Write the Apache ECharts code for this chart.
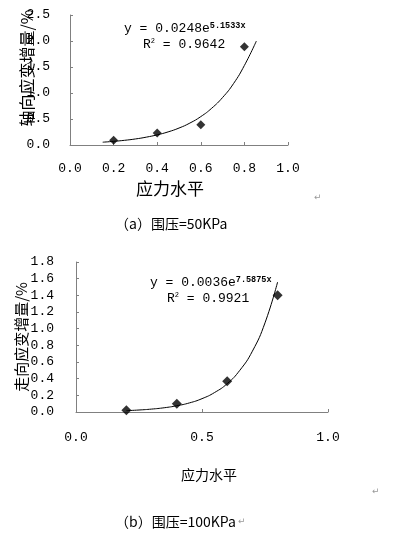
<!DOCTYPE html>
<html>
<head>
<meta charset="utf-8">
<script src="https://cdn.jsdelivr.net/npm/echarts@6/dist/echarts.min.js"></script>
<style>
  html, body { margin: 0; padding: 0; background: #fff; }
  #main { width: 398px; height: 550px; }
</style>
</head>
<body>
<div id="main"></div>
<script>
// 测点 (应力水平)
var stressLevels = [0.2, 0.4, 0.6, 0.8];
// (a) 围压=50KPa 轴向应变增量
var axialStrain = [0.09, 0.23, 0.39, 1.89];
// (b) 围压=100KPa 走向应变增量
var strikeStrain = [0.02, 0.10, 0.37, 1.40];

// 趋势线
var trendAX = [0.15, 0.2, 0.25, 0.3, 0.35, 0.4, 0.45, 0.5, 0.55, 0.6, 0.65, 0.7, 0.75, 0.8, 0.855];
var trendAY = [0.054, 0.07, 0.09, 0.116, 0.151, 0.195, 0.252, 0.326, 0.422, 0.546, 0.707, 0.914, 1.18, 1.53, 2.0];
var trendBX = [0.2, 0.25, 0.3, 0.35, 0.4, 0.45, 0.5, 0.55, 0.6, 0.65, 0.7, 0.75, 0.8];
var trendBY = [0.016, 0.024, 0.035, 0.051, 0.075, 0.109, 0.16, 0.234, 0.34, 0.50, 0.73, 1.07, 1.56];

function pairs(xs, ys) {
  return xs.map(function (x, i) { return [x, ys[i]]; });
}

var mono = '"Liberation Mono", monospace';
var cjk = '"Noto Sans CJK SC", sans-serif';
var axisGray = '#808080';

function fmt1(v) { return v.toFixed(1); }

var chart = echarts.init(document.getElementById('main'));
chart.setOption({
  animation: false,
  grid: [
    { left: 70, top: 15, width: 218, height: 130 },
    { left: 76, top: 262, width: 252, height: 150 }
  ],
  xAxis: [
    {
      gridIndex: 0, type: 'value', min: 0, max: 1, interval: 0.2,
      axisLine: { lineStyle: { color: axisGray } },
      axisTick: { inside: true, length: 3, lineStyle: { color: axisGray } },
      splitLine: { show: false },
      axisLabel: { margin: 17, color: '#000', fontFamily: mono, fontSize: 13, formatter: fmt1 },
      name: '应力水平', nameLocation: 'middle', nameGap: 35, nameMoveOverlap: false,
      nameTextStyle: { fontFamily: cjk, fontSize: 17, color: '#000', padding: [0, 18, 0, 0] }
    },
    {
      gridIndex: 1, type: 'value', min: 0, max: 1, interval: 0.5,
      axisLine: { lineStyle: { color: axisGray } },
      axisTick: { inside: true, length: 3, lineStyle: { color: axisGray } },
      splitLine: { show: false },
      axisLabel: { margin: 19, color: '#000', fontFamily: mono, fontSize: 13, formatter: fmt1 },
      name: '应力水平', nameLocation: 'middle', nameGap: 56, nameMoveOverlap: false,
      nameTextStyle: { fontFamily: cjk, fontSize: 14, color: '#000', padding: [0, 0, 0, 14] }
    }
  ],
  yAxis: [
    {
      gridIndex: 0, type: 'value', min: 0, max: 2.5, interval: 0.5,
      axisLine: { show: true, lineStyle: { color: axisGray } },
      axisTick: { show: true, inside: true, length: 3, lineStyle: { color: axisGray } },
      splitLine: { show: false },
      axisLabel: { margin: 20, color: '#000', fontFamily: mono, fontSize: 13, formatter: fmt1 },
      name: '轴向应变增量/%', nameLocation: 'middle', nameGap: 35, nameRotate: 90, nameMoveOverlap: false,
      nameTextStyle: { fontFamily: cjk, fontSize: 16, color: '#000', padding: [0, 0, 0, 24] }
    },
    {
      gridIndex: 1, type: 'value', min: 0, max: 1.8, interval: 0.2,
      axisLine: { show: true, lineStyle: { color: axisGray } },
      axisTick: { show: true, inside: true, length: 3, lineStyle: { color: axisGray } },
      splitLine: { show: false },
      axisLabel: { margin: 22, color: '#000', fontFamily: mono, fontSize: 13, formatter: fmt1 },
      name: '走向应变增量/%', nameLocation: 'middle', nameGap: 47, nameRotate: 90, nameMoveOverlap: false,
      nameTextStyle: { fontFamily: cjk, fontSize: 15, color: '#000' }
    }
  ],
  series: [
    {
      type: 'line', xAxisIndex: 0, yAxisIndex: 0, smooth: true, showSymbol: false,
      lineStyle: { color: '#000', width: 1 }, data: pairs(trendAX, trendAY), z: 2
    },
    {
      type: 'scatter', xAxisIndex: 0, yAxisIndex: 0, symbol: 'diamond', symbolSize: 9,
      itemStyle: { color: '#000' }, data: pairs(stressLevels, axialStrain), z: 3
    },
    {
      type: 'line', xAxisIndex: 1, yAxisIndex: 1, smooth: true, showSymbol: false,
      lineStyle: { color: '#000', width: 1 }, data: pairs(trendBX, trendBY), z: 2
    },
    {
      type: 'scatter', xAxisIndex: 1, yAxisIndex: 1, symbol: 'diamond', symbolSize: 10,
      itemStyle: { color: '#000' }, data: pairs(stressLevels, strikeStrain), z: 3
    }
  ],
  graphic: [
    { type: 'text', left: 124, top: 21, style: {
      text: '{m|y = 0.0248e}{s|5.1533x}',
      rich: {
        m: { fontFamily: mono, fontSize: 13, fill: '#000' },
        s: { fontFamily: mono, fontSize: 8.5, fontWeight: 'bold', fill: '#000', padding: [0, 0, 7, 0] }
      } } },
    { type: 'text', left: 143, top: 38, style: {
      text: '{m|R}{s|2}{m| = 0.9642}',
      rich: {
        m: { fontFamily: mono, fontSize: 13, fill: '#000' },
        s: { fontFamily: mono, fontSize: 7, fill: '#000', padding: [0, 0, 6, 0] }
      } } },
    { type: 'text', left: 150, top: 275, style: {
      text: '{m|y = 0.0036e}{s|7.5875x}',
      rich: {
        m: { fontFamily: mono, fontSize: 13, fill: '#000' },
        s: { fontFamily: mono, fontSize: 8.5, fontWeight: 'bold', fill: '#000', padding: [0, 0, 7, 0] }
      } } },
    { type: 'text', left: 167, top: 292, style: {
      text: '{m|R}{s|2}{m| = 0.9921}',
      rich: {
        m: { fontFamily: mono, fontSize: 13, fill: '#000' },
        s: { fontFamily: mono, fontSize: 7, fill: '#000', padding: [0, 0, 6, 0] }
      } } },
    { type: 'text', left: 115, top: 217, style: {
      text: '（a）围压=50KPa', fontFamily: cjk, fontSize: 14, fill: '#000' } },
    { type: 'text', left: 115, top: 515, style: {
      text: '（b）围压=100KPa', fontFamily: cjk, fontSize: 14, fill: '#000' } },
    { type: 'text', left: 238, top: 517, style: {
      text: '↵', fontFamily: '"DejaVu Sans"', fontSize: 9, fill: '#999' } },
    { type: 'text', left: 314, top: 193, style: {
      text: '↵', fontFamily: '"DejaVu Sans"', fontSize: 9, fill: '#999' } },
    { type: 'text', left: 372, top: 487, style: {
      text: '↵', fontFamily: '"DejaVu Sans"', fontSize: 9, fill: '#999' } }
  ]
});
</script>
</body>
</html>
